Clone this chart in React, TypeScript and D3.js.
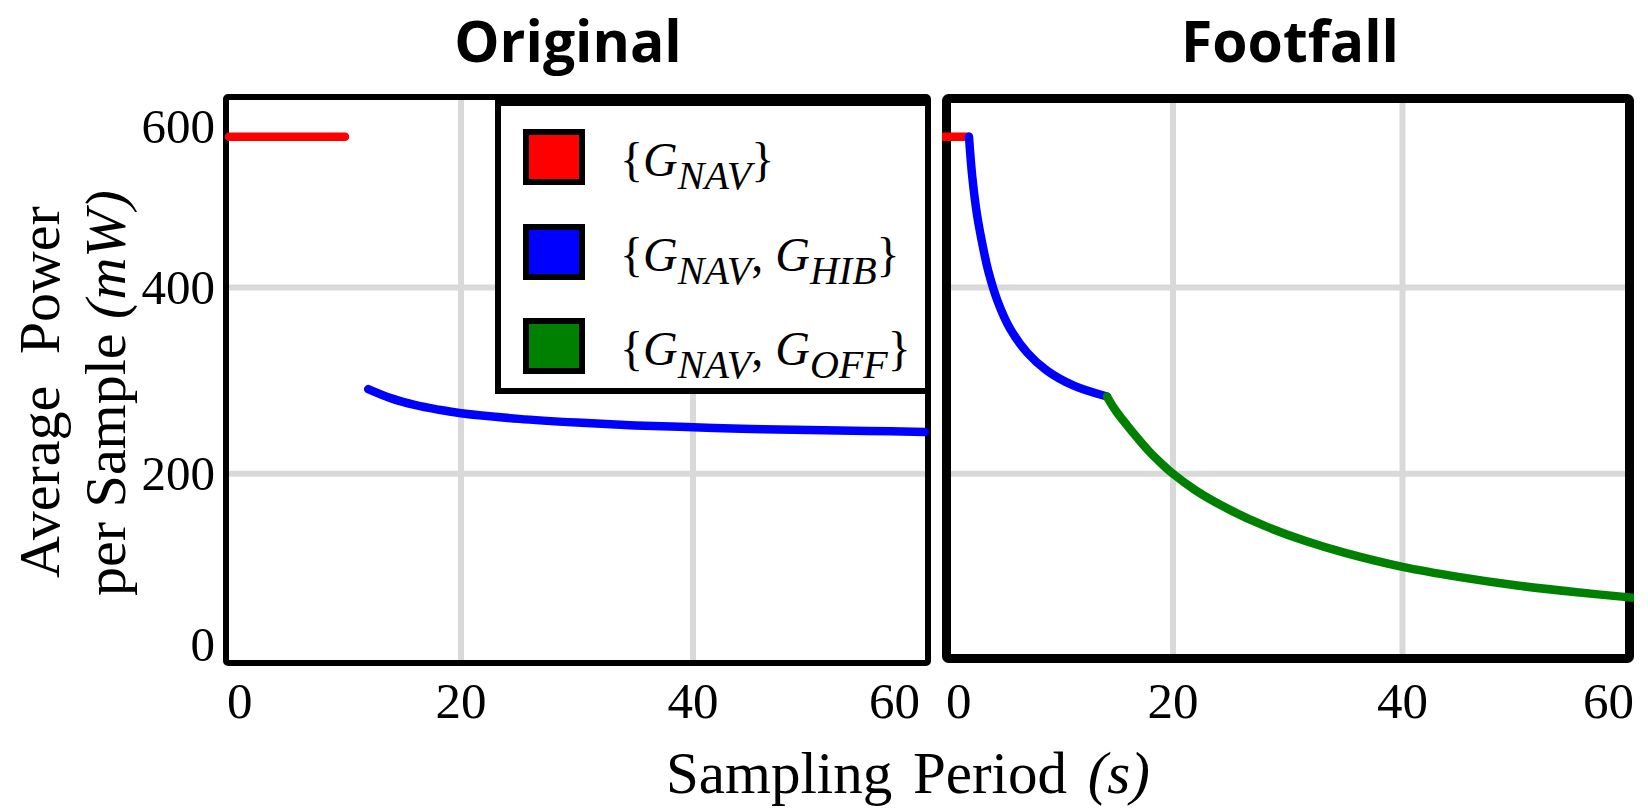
import React from "react";
import * as d3 from "d3";

// ---------- data ----------
const X_TICKS = [0, 20, 40, 60];
const Y_TICKS = [0, 200, 400, 600];
const GRID_X = [20, 40];
const GRID_Y = [200, 400];

// Original panel
const origNav: [number, number][] = [[0, 562], [10, 562]];
const origHib: [number, number][] = [
  [12, 291], [14, 281], [16, 274], [18, 269], [20, 265], [25, 259], [30, 255],
  [35, 252], [40, 250], [45, 248], [50, 247], [55, 246], [60, 245],
];

// Footfall panel
const footNav: [number, number][] = [[0, 562], [2.2, 562]];
const footHib: [number, number][] = [
  [2.22, 562], [2.5, 520], [2.9, 480], [3.4, 446], [3.9, 418], [4.7, 386],
  [5.8, 356], [7.3, 330], [9.0, 311], [11.3, 295], [14.25, 283],
];
const footOff: [number, number][] = [
  [14.25, 283], [15, 268], [16, 252], [17, 237], [18, 223], [19, 211], [20, 200],
  [22, 182], [25, 161], [28, 144], [31.5, 128], [35, 115], [40, 100], [45, 89],
  [50, 80], [55, 73], [60, 67],
];

const legendSubs = [["NAV"], ["NAV", "HIB"], ["NAV", "OFF"]];
const legendColors = ["#ff0000", "#0000ff", "#008000"];

// ---------- layout ----------
const W = 1648;
const H = 808;
const SERIF = "'Liberation Serif', 'Times New Roman', serif";
const SANS = "'Open Sans', 'Noto Sans', sans-serif";

const yScale = d3.scaleLinear().domain([0, 600]).range([660, 101.4]);

type Panel = {
  id: string;
  title: string;
  titleX: number;
  frame: { x: number; y: number; w: number; h: number; sw: number };
  xr: [number, number];
  series: { data: [number, number][]; color: string }[];
  firstLabelX: number;
  lastLabelX: number;
};

const panels: Panel[] = [
  {
    id: "orig",
    title: "Original",
    titleX: 568,
    frame: { x: 226, y: 97, w: 702, h: 566, sw: 6 },
    xr: [229, 925],
    series: [
      { data: origNav, color: legendColors[0] },
      { data: origHib, color: legendColors[1] },
    ],
    firstLabelX: 227,
    lastLabelX: 920,
  },
  {
    id: "foot",
    title: "Footfall",
    titleX: 1290,
    frame: { x: 946.5, y: 98.5, w: 683, h: 560, sw: 9 },
    xr: [943.5, 1632],
    series: [
      { data: footNav, color: legendColors[0] },
      { data: footHib, color: legendColors[1] },
      { data: footOff, color: legendColors[2] },
    ],
    firstLabelX: 946,
    lastLabelX: 1634,
  },
];

function PanelView({ p }: { p: Panel }) {
  const x = d3.scaleLinear().domain([0, 60]).range(p.xr);
  const line = d3
    .line<[number, number]>()
    .x((d) => x(d[0]))
    .y((d) => yScale(d[1]))
    .curve(d3.curveCatmullRom.alpha(0.5));
  const f = p.frame;
  const half = f.sw / 2;
  return (
    <g>
      <defs>
        <clipPath id={`clip-${p.id}`}>
          <rect x={f.x - half} y={f.y - half} width={f.w + f.sw} height={f.h + f.sw} />
        </clipPath>
      </defs>
      {GRID_X.map((v) => (
        <line key={`gx${v}`} x1={x(v)} x2={x(v)} y1={f.y} y2={f.y + f.h} stroke="#d9d9d9" strokeWidth={6} />
      ))}
      {GRID_Y.map((v) => (
        <line key={`gy${v}`} x1={f.x} x2={f.x + f.w} y1={yScale(v)} y2={yScale(v)} stroke="#d9d9d9" strokeWidth={6} />
      ))}
      <rect x={f.x} y={f.y} width={f.w} height={f.h} fill="none" stroke="#000" strokeWidth={f.sw} rx={2} />
      <g clipPath={`url(#clip-${p.id})`}>
        {p.series.map((s, i) => (
          <path
            key={i}
            d={line(s.data) || ""}
            fill="none"
            stroke={s.color}
            strokeWidth={8.5}
            strokeLinecap="round"
            strokeLinejoin="round"
          />
        ))}
      </g>
      {X_TICKS.map((v, i) => {
        let anchor = "middle";
        let lx = x(v);
        if (i === 0) {
          anchor = "start";
          lx = p.firstLabelX;
        } else if (i === X_TICKS.length - 1) {
          anchor = "end";
          lx = p.lastLabelX;
        }
        return (
          <text key={`xt${v}`} x={lx} y={718} textAnchor={anchor as any} fontFamily={SERIF} fontSize={51} fill="#000">
            {v}
          </text>
        );
      })}
      <text x={p.titleX} y={62} textAnchor="middle" fontFamily={SANS} fontWeight={700} fontSize={57} fill="#000">
        {p.title}
      </text>
    </g>
  );
}

function LegendLabel({ subs, y }: { subs: string[]; y: number }) {
  const parts: React.ReactNode[] = [];
  parts.push(<tspan key="ob">{"{"}</tspan>);
  subs.forEach((s, i) => {
    if (i > 0) {
      parts.push(
        <tspan key={`c${i}`} dy={-13}>
          {", "}
        </tspan>
      );
    }
    parts.push(
      <tspan key={`g${i}`} fontStyle="italic">
        G
      </tspan>
    );
    parts.push(
      <tspan key={`s${i}`} fontStyle="italic" fontSize={40} dy={13}>
        {s}
      </tspan>
    );
  });
  parts.push(
    <tspan key="cb" dy={-13}>
      {"}"}
    </tspan>
  );
  return (
    <text x={620} y={y} fontFamily={SERIF} fontSize={48} fill="#000">
      {parts}
    </text>
  );
}

export default function App() {
  const yLabel = (v: number) => {
    const c = Math.min(Math.max(yScale(v), 127), 645);
    return c + 16;
  };
  const rowCenters = [157, 252, 346];
  return (
    <svg
      width={W}
      height={H}
      viewBox={`0 0 ${W} ${H}`}
      style={{ position: "absolute", left: 0, top: 0, display: "block", background: "#fff" }}
    >
      <rect x={0} y={0} width={W} height={H} fill="#fff" />
      {panels.map((p) => (
        <PanelView key={p.id} p={p} />
      ))}
      {Y_TICKS.map((v) => (
        <text key={`yt${v}`} x={215} y={yLabel(v)} textAnchor="end" fontFamily={SERIF} fontSize={49} fill="#000">
          {v}
        </text>
      ))}
      {/* legend */}
      <rect x={498} y={103} width={430} height={288} fill="#fff" stroke="#000" strokeWidth={6} />
      {legendSubs.map((subs, i) => (
        <g key={i}>
          <rect
            x={526}
            y={rowCenters[i] - 25}
            width={56}
            height={50}
            fill={legendColors[i]}
            stroke="#000"
            strokeWidth={6}
          />
          <LegendLabel subs={subs} y={rowCenters[i] + 19} />
        </g>
      ))}
      {/* axis titles */}
      <g transform="translate(59,392) rotate(-90)">
        <text x={0} y={0} textAnchor="middle" fontFamily={SERIF} fontSize={58} wordSpacing={17} fill="#000">
          Average Power
        </text>
      </g>
      <g transform="translate(125,393) rotate(-90)">
        <text x={0} y={0} textAnchor="middle" fontFamily={SERIF} fontSize={58} fill="#000">
          per Sample <tspan fontStyle="italic">(mW)</tspan>
        </text>
      </g>
      <text x={908} y={793} textAnchor="middle" fontFamily={SERIF} fontSize={59} wordSpacing={6} fill="#000">
        Sampling Period <tspan fontStyle="italic">(s)</tspan>
      </text>
    </svg>
  );
}
